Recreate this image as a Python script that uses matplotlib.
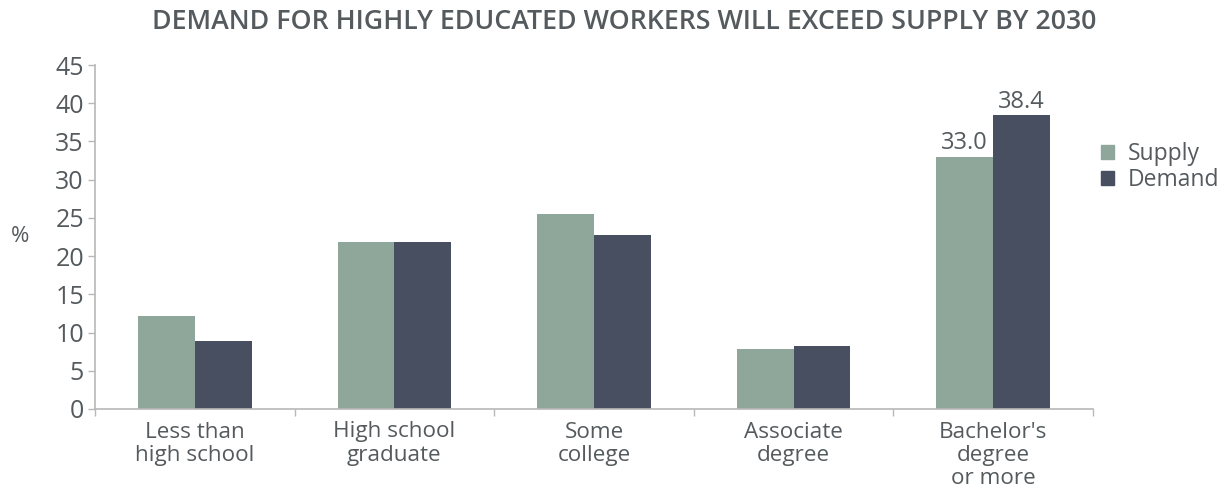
import matplotlib.pyplot as plt
import numpy as np
from matplotlib.patches import Patch

# data
categories = ["Less than\nhigh school", "High school\ngraduate", "Some\ncollege",
              "Associate\ndegree", "Bachelor's\ndegree\nor more"]
supply = [12.2, 21.8, 25.5, 7.8, 33.0]
demand = [8.9, 21.8, 22.7, 8.2, 38.4]
yticks = [0, 5, 10, 15, 20, 25, 30, 35, 40, 45]

supply_color = "#8fa79a"
demand_color = "#474f61"
text_color = "#545a5d"
axis_color = "#b8b8b8"

plt.rcParams['font.family'] = ['Open Sans', 'DejaVu Sans']

fig = plt.figure(figsize=(12.23, 4.93), dpi=100)
ax = fig.add_axes([95 / 1223, (493 - 409) / 493, (1093 - 95) / 1223, (409 - 65) / 493])

x = np.arange(len(categories))
w = 0.285
ax.bar(x - w / 2, supply, width=w, color=supply_color, label="Supply")
ax.bar(x + w / 2, demand, width=w, color=demand_color, label="Demand")

# value labels on the last pair only
ax.text(x[-1] - w / 2, supply[-1] + 0.2, f"{supply[-1]:.1f}", ha="center", va="bottom",
        fontsize=17, color=text_color)
ax.text(x[-1] + w / 2, demand[-1] + 0.2, f"{demand[-1]:.1f}", ha="center", va="bottom",
        fontsize=17, color=text_color)

ax.set_xlim(-0.5, len(categories) - 0.5)
ax.set_ylim(0, 45)
ax.set_yticks(yticks)
ax.set_yticklabels([str(v) for v in yticks], fontsize=18, color=text_color)

ax.set_xticks(x)
ax.set_xticklabels(categories, fontsize=16.2, color=text_color, linespacing=1.13)
ax.tick_params(axis="x", which="major", length=0, pad=9)
ax.set_xticks(np.arange(-0.5, len(categories)), minor=True)
ax.tick_params(axis="x", which="minor", length=5, color=axis_color, width=1)
ax.tick_params(axis="y", length=5, color=axis_color, width=1, pad=3)

for s in ["top", "right"]:
    ax.spines[s].set_visible(False)
for s in ["left", "bottom"]:
    ax.spines[s].set_color(axis_color)
    ax.spines[s].set_linewidth(1.2)

fig.text(20 / 1223, 1 - 237 / 493, "%", fontsize=16, color=text_color, ha="center", va="center")

fig.text(624 / 1223, 1 - 22 / 493, "DEMAND FOR HIGHLY EDUCATED WORKERS WILL EXCEED SUPPLY BY 2030",
         ha="center", va="center", fontsize=19.3, fontweight="semibold", color=text_color)

handles = [Patch(color=supply_color, label="Supply"), Patch(color=demand_color, label="Demand")]
leg = fig.legend(handles=handles, loc="upper left", bbox_to_anchor=(1101 / 1223, 1 - 142 / 493),
                 frameon=False, fontsize=16.5, handlelength=0.55, handleheight=0.55,
                 handletextpad=0.6, labelspacing=0.1, borderpad=0, borderaxespad=0)
for t in leg.get_texts():
    t.set_color(text_color)

fig.savefig("out.png", dpi=100)
